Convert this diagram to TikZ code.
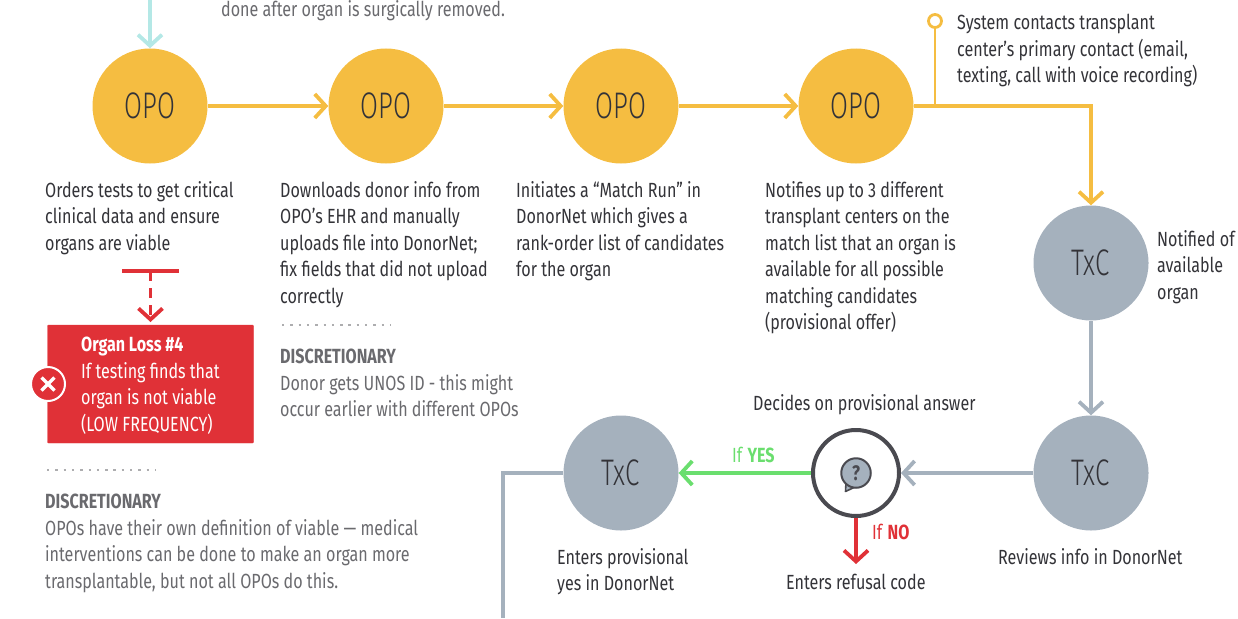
\documentclass[tikz,border=0pt]{standalone}
\usepackage{fontspec}
\setmainfont{Fira Sans}[FakeStretch=0.785]
\newfontfamily\circlefont{Fira Sans Light}[FakeStretch=0.7]
\usepackage{tikz}
\usetikzlibrary{arrows.meta}
\definecolor{opoyellow}{HTML}{F5BD41}
\definecolor{txcgray}{HTML}{A5B1BD}
\definecolor{lossred}{HTML}{E03137}
\definecolor{yesgreen}{HTML}{6ADE6E}
\definecolor{inkdark}{HTML}{333338}
\definecolor{inkgray}{HTML}{6A6A6E}
\definecolor{ringdark}{HTML}{4A4A50}
\definecolor{toparrow}{HTML}{B4E8E6}
\tikzset{
  barb/.style={-{Straight Barb[length=11pt,width=24pt,line width=3.8pt]}, line width=3.8pt},
  opo/.style={circle, fill=opoyellow, minimum size=115pt, inner sep=0pt, text=inkdark, font=\circlefont\fontsize{37}{40}\selectfont},
  txc/.style={circle, fill=txcgray, minimum size=115pt, inner sep=0pt, text=inkdark, font=\circlefont\fontsize{37}{40}\selectfont},
  lbl/.style={anchor=north west, inner sep=0pt, align=left, text=inkdark, font=\fontsize{20.5}{26.5}\selectfont},
  note/.style={lbl, text=inkgray},
  dots/.style={line width=2.4pt, inkgray!55, dash pattern=on 2.4pt off 5.9pt},
}
\begin{document}
\begin{tikzpicture}[x=1pt, y=-1pt]
\useasboundingbox (0,0) rectangle (1238,618);
% top row
\node[opo] (opoa) at (150,106) {OPO};
\node[opo] (opob) at (386,106) {OPO};
\node[opo] (opoc) at (621,106) {OPO};
\node[opo] (opod) at (856,106) {OPO};
\coordinate (topin) at (150,0);
\draw[barb, toparrow] (topin) -- (opoa);
\draw[barb, opoyellow] (opoa) -- (opob);
\draw[barb, opoyellow] (opob) -- (opoc);
\draw[barb, opoyellow] (opoc) -- (opod);
% right column
\node[txc] (txca) at (1091,263) {TxC};
\node[txc] (txcb) at (1091,473) {TxC};
\node[txc] (txcc) at (621,473) {TxC};
\node[circle, draw=ringdark, line width=4pt, fill=white, minimum size=86pt, inner sep=0pt] (ask) at (856,473) {};
\draw[barb, opoyellow] (opod.east) -| (txca.north);
\draw[barb, txcgray] (txca) -- (txcb);
\draw[barb, txcgray] (txcb) -- (ask);
\draw[barb, yesgreen] (ask) -- (txcc);
\coordinate (noend) at (856,564);
\draw[barb, lossred] (ask) -- (noend);
\coordinate (exita) at (503,473);
\coordinate (exitb) at (503,618);
\draw[line width=3.8pt, txcgray] (txcc) -- (exita) -- (exitb);
% pin
\coordinate (stem) at (935,106);
\node[circle, draw=opoyellow, line width=2.8pt, fill=white, minimum size=13pt, inner sep=0pt] (pin) at (935,21) {};
\draw[line width=2.8pt, opoyellow] (stem) -- (pin);
% question icon
\draw[draw=ringdark, fill=txcgray, line width=1.6pt, line join=round] (846,482) -- (845.5,491.5) -- (855,487);
\node[circle, draw=ringdark, line width=2pt, fill=txcgray, minimum size=29.5pt, inner sep=0pt, text=ringdark, font=\bfseries\fontsize{21}{21}\selectfont] (quest) at (856,473) {?};
% loss branch
\coordinate (bara) at (122,271);
\coordinate (barb) at (179,271);
\draw[line width=3.8pt, lossred] (bara) -- (barb);
\node[draw, rectangle, rounded corners=1pt, fill=lossred, draw=lossred, minimum width=206pt, minimum height=118pt, inner sep=0pt] (loss) at (150.5,384) {};
\coordinate (barmid) at (150.5,271);
\coordinate (lossin) at (150.5,322);
\draw[barb, lossred, dash pattern=on 10pt off 7pt] (barmid) -- (lossin);
\node[lbl, text=white] (losstxt) at (81,337) {\textbf{Organ Loss \#4}\\If testing finds that\\organ is not viable\\(LOW FREQUENCY)};
\node[circle, fill=lossred, draw=white, line width=2pt, minimum size=34pt, inner sep=0pt] (lossx) at (48,384) {};
\draw[line width=3.2pt, white] ([xshift=-6.5pt,yshift=-6.5pt]lossx.center) -- ([xshift=6.5pt,yshift=6.5pt]lossx.center);
\draw[line width=3.2pt, white] ([xshift=-6.5pt,yshift=6.5pt]lossx.center) -- ([xshift=6.5pt,yshift=-6.5pt]lossx.center);
% labels
\node[note] (donetxt) at (221,0) {done after organ is surgically removed.};
\node[lbl] (testtxt) at (45,181) {Orders tests to get critical\\clinical data and ensure\\organs are viable};
\node[lbl] (dltxt) at (280,181) {Downloads donor info from\\OPO’s EHR and manually\\uploads file into DonorNet;\\fix fields that did not upload\\correctly};
\node[lbl] (runtxt) at (516,181) {Initiates a “Match Run” in\\DonorNet which gives a\\rank-order list of candidates\\for the organ};
\node[lbl] (nottxt) at (765,181) {Notifies up to 3 different\\transplant centers on the\\match list that an organ is\\available for all possible\\matching candidates\\(provisional offer)};
\node[lbl] (systxt) at (957,14) {System contacts transplant\\center’s primary contact (email,\\texting, call with voice recording)};
\node[lbl] (avltxt) at (1157,230) {Notified of\\available\\organ};
\node[lbl] (revtxt) at (998,548) {Reviews info in DonorNet};
\node[lbl] (deftxt) at (753,394) {Decides on provisional answer};
\node[lbl] (provtxt) at (557,548) {Enters provisional\\yes in DonorNet};
\node[lbl] (reftxt) at (786,574) {Enters refusal code};
\node[lbl, text=yesgreen] (yestxt) at (732,447) {If \textbf{YES}};
\node[lbl, text=lossred] (notxt) at (872,524) {If \textbf{NO}};
% discretionary notes
\coordinate (dota) at (282,325);
\coordinate (dotb) at (391,325);
\draw[dots] (dota) -- (dotb);
\node[note] (dscb) at (280,349) {\textbf{DISCRETIONARY}\\Donor gets UNOS ID - this might\\occur earlier with different OPOs};
\coordinate (dotc) at (47,470);
\coordinate (dotd) at (156,470);
\draw[dots] (dotc) -- (dotd);
\node[note] (dsca) at (45,494) {\textbf{DISCRETIONARY}\\OPOs have their own definition of viable — medical\\interventions can be done to make an organ more\\transplantable, but not all OPOs do this.};
\end{tikzpicture}
\end{document}
